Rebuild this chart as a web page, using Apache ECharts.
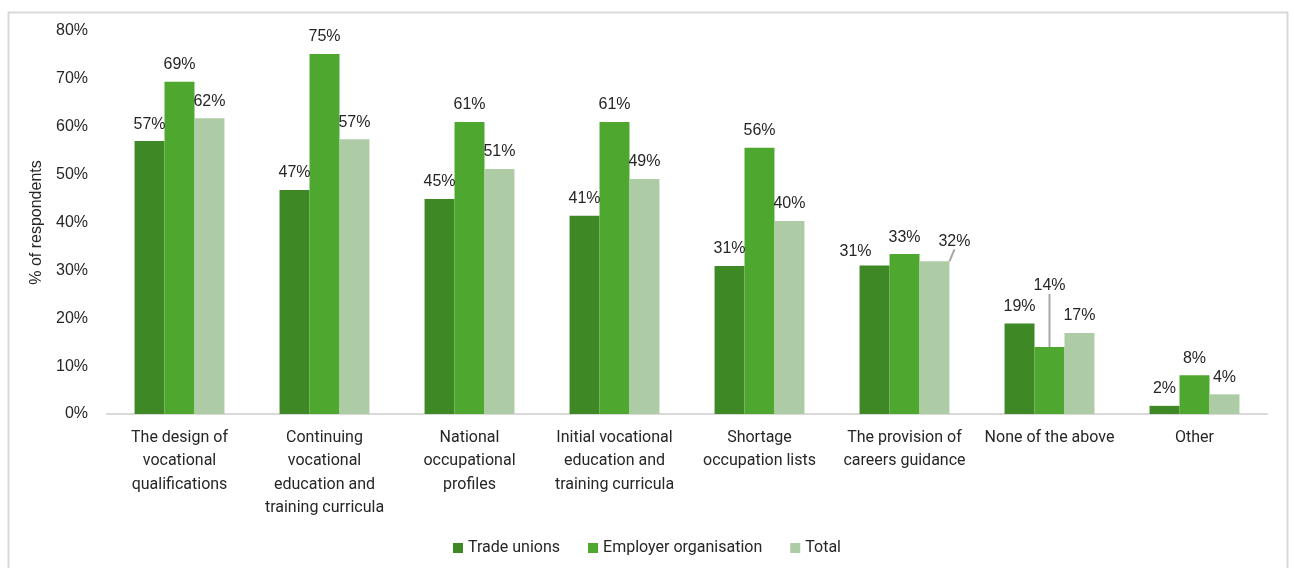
<!DOCTYPE html>
<html>
<head>
<meta charset="utf-8">
<script src="https://cdn.jsdelivr.net/npm/echarts@6/dist/echarts.min.js"></script>
<style>
  html, body { margin: 0; padding: 0; background: #ffffff; }
  #chart { width: 1294px; height: 568px; }
</style>
</head>
<body>
<div id="chart"></div>
<script>
// Involvement areas (category labels, wrapped as printed under the axis)
const categories = [
  'The design of\nvocational\nqualifications',
  'Continuing\nvocational\neducation and\ntraining curricula',
  'National\noccupational\nprofiles',
  'Initial vocational\neducation and\ntraining curricula',
  'Shortage\noccupation lists',
  'The provision of\ncareers guidance',
  'None of the above',
  'Other'
];

// Share of respondents, %
const tradeUnions          = [57.0, 46.8, 44.9, 41.4, 30.9, 31.0, 18.9, 1.7];
const employerOrganisation = [69.4, 75.2, 61.0, 61.0, 55.6, 33.4, 14.0, 8.1];
const total                = [61.8, 57.4, 51.2, 49.1, 40.3, 31.9, 16.9, 4.1];

const seriesNames = ['Trade unions', 'Employer organisation', 'Total'];
const yMin = 0, yMax = 80, yStep = 10;

const colors = ['#3e8826', '#4ea72e', '#adcca5'];

// Labels nudged aside to avoid crowding; key = series-dataIndex
const labelMoves = {
  '0-5': { dx: -19, dy: 3 },
  '2-5': { dx: 20, dy: -3 },
  '1-6': { dx: 0, dy: -44 }
};
const leaderLines = { '2-5': true, '1-6': true };

function buildData(values, sIdx) {
  return values.map((v, i) => {
    if (leaderLines[sIdx + '-' + i]) {
      return { value: v, labelLine: { show: true, lineStyle: { color: '#a6a6a6', width: 2 } } };
    }
    return v;
  });
}

const chart = echarts.init(document.getElementById('chart'), null, { renderer: 'canvas' });

const seriesValues = [tradeUnions, employerOrganisation, total];

chart.setOption({
  animation: false,
  backgroundColor: '#ffffff',
  color: colors,
  textStyle: { fontFamily: 'Liberation Sans, Arial, sans-serif' },
  graphic: [{
    type: 'rect',
    left: 6, top: 10,
    shape: { width: 1279, height: 575 },
    style: { fill: 'none', stroke: '#d9d9d9', lineWidth: 2 },
    silent: true
  }],
  grid: { left: 107, right: 27, top: 31, bottom: 154, containLabel: false },
  legend: {
    data: seriesNames,
    bottom: 7,
    left: 'center',
    icon: 'rect',
    itemWidth: 10,
    itemHeight: 10,
    itemGap: 28,
    textStyle: { fontFamily: 'Roboto', fontSize: 16, color: '#262626' }
  },
  xAxis: {
    type: 'category',
    data: categories,
    axisLine: { show: true, lineStyle: { color: '#d9d9d9', width: 2 } },
    axisTick: { show: false },
    axisLabel: {
      interval: 0,
      margin: 12,
      fontFamily: 'Roboto',
      fontSize: 16,
      lineHeight: 23.5,
      color: '#262626',
      align: 'center'
    }
  },
  yAxis: {
    type: 'value',
    min: yMin,
    max: yMax,
    interval: yStep,
    name: '% of respondents',
    nameLocation: 'middle',
    nameGap: 55,
    nameRotate: 90,
    nameTextStyle: { fontFamily: 'Liberation Sans', fontSize: 16, color: '#262626' },
    axisLine: { show: false },
    axisTick: { show: false },
    splitLine: { show: false },
    axisLabel: {
      formatter: '{value}%',
      margin: 19,
      fontFamily: 'Liberation Sans',
      fontSize: 16,
      color: '#262626'
    }
  },
  series: seriesValues.map((vals, sIdx) => ({
    name: seriesNames[sIdx],
    type: 'bar',
    data: buildData(vals, sIdx),
    barGap: '0%',
    barCategoryGap: '38%',
    itemStyle: { color: colors[sIdx] },
    label: {
      show: true,
      position: 'top',
      distance: 9,
      fontFamily: 'Liberation Sans',
      fontSize: 16,
      color: '#262626',
      formatter: p => Math.round(p.value) + '%'
    },
    labelLayout: p => labelMoves[p.seriesIndex + '-' + p.dataIndex] || {}
  }))
});
</script>
</body>
</html>
